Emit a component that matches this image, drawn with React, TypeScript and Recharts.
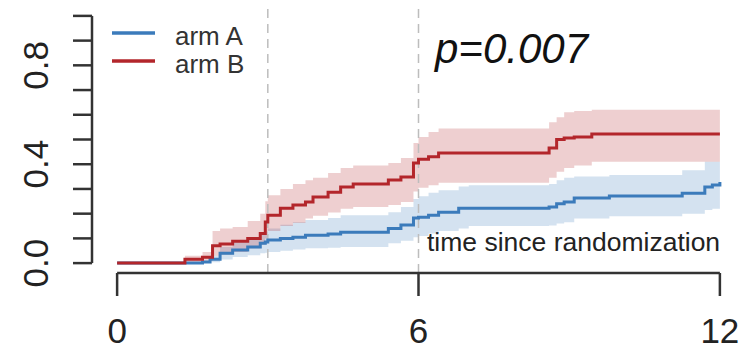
import React from 'react';
import { ComposedChart, Area, Line, XAxis, YAxis, ReferenceLine, Customized } from 'recharts';

// time grid (months) and cumulative incidence with 95% bands
const times = [0, 1.35, 1.7, 1.85, 1.9, 2.05, 2.3, 2.6, 2.85, 2.95, 3.0, 3.25, 3.5, 3.75, 3.9, 4.2, 4.45, 4.7, 5.4, 5.65, 5.9, 6.0, 6.2, 6.4, 6.8, 7.0, 8.6, 8.75, 8.9, 9.1, 9.45, 9.8, 11.25, 11.7, 11.85, 12];

const armA = [0, 0, 0.004, 0.016, 0.016, 0.04, 0.053, 0.065, 0.08, 0.085, 0.093, 0.1, 0.105, 0.113, 0.113, 0.118, 0.125, 0.125, 0.14, 0.154, 0.182, 0.186, 0.194, 0.206, 0.222, 0.222, 0.227, 0.24, 0.247, 0.263, 0.263, 0.271, 0.283, 0.308, 0.316, 0.328];
const armALow = [0, 0, 0, 0.003, 0.003, 0.015, 0.025, 0.032, 0.04, 0.042, 0.045, 0.05, 0.055, 0.06, 0.06, 0.062, 0.065, 0.065, 0.08, 0.09, 0.105, 0.11, 0.12, 0.13, 0.14, 0.15, 0.152, 0.16, 0.165, 0.18, 0.18, 0.19, 0.2, 0.215, 0.22, 0.225];
const armAHigh = [0, 0, 0.01, 0.03, 0.03, 0.065, 0.085, 0.1, 0.12, 0.128, 0.14, 0.155, 0.165, 0.174, 0.174, 0.182, 0.194, 0.194, 0.206, 0.227, 0.259, 0.27, 0.285, 0.295, 0.31, 0.315, 0.32, 0.335, 0.345, 0.35, 0.35, 0.356, 0.376, 0.41, 0.41, 0.41];

const armB = [0, 0.016, 0.024, 0.024, 0.07, 0.077, 0.088, 0.1, 0.12, 0.166, 0.194, 0.222, 0.235, 0.247, 0.267, 0.287, 0.308, 0.32, 0.336, 0.348, 0.405, 0.42, 0.43, 0.445, 0.445, 0.445, 0.466, 0.5, 0.506, 0.51, 0.522, 0.522, 0.522, 0.522, 0.522, 0.522];
const armBLow = [0, 0.005, 0.01, 0.01, 0.03, 0.035, 0.045, 0.06, 0.075, 0.1, 0.13, 0.15, 0.162, 0.18, 0.192, 0.205, 0.22, 0.227, 0.235, 0.247, 0.29, 0.305, 0.315, 0.325, 0.325, 0.325, 0.345, 0.37, 0.385, 0.395, 0.41, 0.41, 0.41, 0.41, 0.41, 0.41];
const armBHigh = [0, 0.03, 0.045, 0.045, 0.13, 0.14, 0.146, 0.17, 0.2, 0.25, 0.275, 0.3, 0.32, 0.335, 0.345, 0.365, 0.385, 0.395, 0.405, 0.425, 0.486, 0.51, 0.53, 0.545, 0.545, 0.545, 0.57, 0.59, 0.61, 0.615, 0.62, 0.62, 0.62, 0.62, 0.62, 0.62];

const xTicks = [0, 6, 12];
const yTicks = [0, 0.1, 0.2, 0.3, 0.4, 0.5, 0.6, 0.7, 0.8, 0.9, 1];
const yLabeled = [0, 0.4, 0.8];
const cutoffs = [3, 6];
const legendLabels = ['arm A', 'arm B'];
const pValue = 'p=0.007';
const annotation = 'time since randomization';

const BLUE = '#3b7bbb';
const RED = '#b3262b';
const AXIS = '#333';
const FONT = '"Liberation Sans", Arial, sans-serif';

const rows = times.map((t, i) => ({
  t,
  armA: armA[i],
  armB: armB[i],
  bandA: [armALow[i], armAHigh[i]],
  bandB: [armBLow[i], armBHigh[i]],
}));

const XTick = ({ x, payload }: any) => (
  <text x={x} y={343} textAnchor="middle" fontSize={35} fill="#222" fontFamily={FONT}>
    {payload.value}
  </text>
);

const YTick = ({ y, payload }: any) => {
  if (!yLabeled.includes(payload.value)) return <g />;
  return (
    <text x={48} y={y} transform={`rotate(-90 48 ${y})`} textAnchor="middle" fontSize={35} fill="#222" fontFamily={FONT}>
      {payload.value.toFixed(1)}
    </text>
  );
};

const Overlay = () => (
  <g fontFamily={FONT}>
    {legendLabels.map((label, i) => (
      <g key={label}>
        <line x1={112} x2={155} y1={33 + i * 28} y2={33 + i * 28} stroke={i === 0 ? BLUE : RED} strokeWidth={3.5} />
        <text x={175} y={45 + i * 28} fontSize={26} fill="#333">{label}</text>
      </g>
    ))}
    <text x={435} y={63} fontSize={42} fontStyle="italic" fill="#111">{pValue}</text>
    <text x={427} y={251} fontSize={26.5} fill="#222">{annotation}</text>
  </g>
);

export default function App() {
  return (
    <div style={{ width: 751, height: 354, background: '#fff' }}>
      <style>{'body{margin:0}'}</style>
      <ComposedChart width={751} height={354} data={rows} margin={{ top: 6, right: 6, bottom: 0, left: 0 }}>
        <XAxis
          type="number"
          dataKey="t"
          domain={[-0.5, 12.5]}
          ticks={xTicks}
          interval={0}
          height={81}
          axisLine={false}
          tickSize={23}
          tickLine={{ stroke: AXIS, strokeWidth: 2.5 }}
          tick={<XTick />}
          allowDataOverflow
        />
        <YAxis
          type="number"
          domain={[-0.04, 1.04]}
          ticks={yTicks}
          interval={0}
          width={92}
          axisLine={false}
          tickSize={19}
          tickLine={{ stroke: AXIS, strokeWidth: 2.5 }}
          tick={<YTick />}
          allowDataOverflow
        />
        {cutoffs.map((c) => (
          <ReferenceLine key={c} x={c} stroke="#bdbdbd" strokeWidth={1.5} strokeDasharray="9 6" />
        ))}
        <ReferenceLine segment={[{ x: 0, y: -0.04 }, { x: 12, y: -0.04 }]} stroke={AXIS} strokeWidth={2.5} />
        <ReferenceLine segment={[{ x: -0.5, y: 0 }, { x: -0.5, y: 1 }]} stroke={AXIS} strokeWidth={2.5} />
        <Area type="stepAfter" dataKey="bandA" stroke="none" fill={BLUE} fillOpacity={0.22} isAnimationActive={false} />
        <Area type="stepAfter" dataKey="bandB" stroke="none" fill={RED} fillOpacity={0.22} isAnimationActive={false} />
        <Line type="stepAfter" dataKey="armA" stroke={BLUE} strokeWidth={3} dot={false} isAnimationActive={false} />
        <Line type="stepAfter" dataKey="armB" stroke={RED} strokeWidth={3} dot={false} isAnimationActive={false} />
        <Customized component={Overlay} />
      </ComposedChart>
    </div>
  );
}
